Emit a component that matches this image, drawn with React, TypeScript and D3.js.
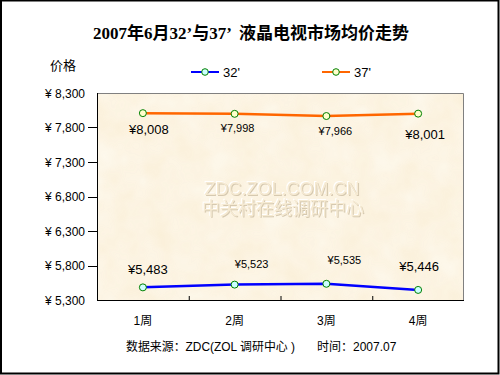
import React from "react";
import * as d3 from "d3";

const categories = ["1周", "2周", "3周", "4周"];
const series32 = [5483, 5523, 5535, 5446];
const series37 = [8008, 7998, 7966, 8001];
const yTicks = [5300, 5800, 6300, 6800, 7300, 7800, 8300];
const seriesNames = ["32'", "37'"];

// label placement (relative to point) and size per label
const label37 = [
  { dx: 6, dy: 21, size: 13 },
  { dx: 3, dy: 18, size: 11 },
  { dx: 9, dy: 19, size: 11 },
  { dx: 7, dy: 25, size: 13 },
];
const label32 = [
  { dx: 5, dy: -13, size: 13 },
  { dx: 17, dy: -17, size: 11 },
  { dx: 18, dy: -20, size: 11 },
  { dx: 1, dy: -19, size: 13 },
];

const W = 500;
const H = 375;
const plot = { left: 97, top: 93, right: 464, bottom: 300 };

export default function App() {
  const x = d3
    .scaleBand<string>()
    .domain(categories)
    .range([plot.left, plot.right]);
  const y = d3.scaleLinear().domain([5300, 8300]).range([plot.bottom, plot.top]);
  const cx = (c: string) => (x(c) as number) + x.bandwidth() / 2;
  const line = d3
    .line<number>()
    .x((_, i) => cx(categories[i]))
    .y((d) => y(d));
  const fmtAxis = (v: number) => "¥ " + d3.format(",")(v);
  const fmtLabel = (v: number) => "¥" + d3.format(",")(v);
  const sans = "'Liberation Sans', Arial, 'Noto Sans CJK SC', sans-serif";
  const cjk = "'Liberation Sans', 'Noto Sans CJK SC', sans-serif";

  const seriesDefs = [
    { data: series32, color: "#0000FF", fill: "#CCFFFF", labels: label32 },
    { data: series37, color: "#FF6600", fill: "#FFFFCC", labels: label37 },
  ];

  const boundaries = categories.slice(1).map((c) => x(c) as number);

  return (
    <svg
      width={W}
      height={H}
      style={{ position: "absolute", left: 0, top: 0 }}
      xmlns="http://www.w3.org/2000/svg"
    >
      <defs>
        <filter id="parch" x="0" y="0" width="100%" height="100%">
          <feTurbulence type="fractalNoise" baseFrequency="0.035" numOctaves="3" seed="3" result="n" />
          <feColorMatrix
            in="n"
            type="matrix"
            values="0 0 0 0 0.99  0 0 0 0 0.95  0 0 0 0 0.86  0 0 0 -1.1 1.05"
            result="c"
          />
          <feComposite in="c" in2="SourceGraphic" operator="in" />
        </filter>
        <filter id="emboss" x="-5%" y="-20%" width="110%" height="140%">
          <feOffset in="SourceAlpha" dx="-1" dy="-1" result="o1" />
          <feFlood floodColor="#FFFFFF" result="w" />
          <feComposite in="w" in2="o1" operator="in" result="hi" />
          <feOffset in="SourceAlpha" dx="0.8" dy="0.8" result="o2" />
          <feFlood floodColor="#D6C9B0" result="g" />
          <feComposite in="g" in2="o2" operator="in" result="sh" />
          <feMerge>
            <feMergeNode in="hi" />
            <feMergeNode in="sh" />
            <feMergeNode in="SourceGraphic" />
          </feMerge>
        </filter>
      </defs>
      <rect x={0} y={0} width={W} height={H} fill="#FFFFFF" />
      <rect x={1} y={0.5} width={W - 2.5} height={H - 2} fill="none" stroke="#000" strokeWidth={2} />

      <text
        x={251}
        y={39}
        textAnchor="middle"
        fontFamily="'Liberation Serif', 'Noto Sans CJK SC', serif"
        fontWeight="bold"
        fontSize={17}
        fill="#000"
        style={{ whiteSpace: "pre" }}
      >
        {"2007年6月32’与37’  液晶电视市场均价走势"}
      </text>
      <text x={50} y={70} fontFamily={cjk} fontSize={13} fill="#000">
        价格
      </text>

      {/* legend */}
      {seriesDefs.map((s, i) => {
        const lx = i === 0 ? 191 : 322;
        return (
          <g key={"lg" + i}>
            <line x1={lx} x2={lx + 28} y1={72} y2={72} stroke={s.color} strokeWidth={2} />
            <circle cx={lx + 14} cy={72} r={3.3} fill={s.fill} stroke="#008000" strokeWidth={1} />
            <text x={lx + 32} y={76.5} fontFamily={sans} fontSize={13} fill="#000">
              {seriesNames[i]}
            </text>
          </g>
        );
      })}

      {/* plot area */}
      <rect
        x={plot.left}
        y={plot.top}
        width={plot.right - plot.left}
        height={plot.bottom - plot.top}
        fill="#FAEFD8"
      />
      <rect
        x={plot.left}
        y={plot.top}
        width={plot.right - plot.left}
        height={plot.bottom - plot.top}
        fill="#FFF7E8"
        filter="url(#parch)"
        opacity={0.9}
      />
      <path
        d={`M${plot.left},${plot.top + 0.5}H${plot.right - 0.5}V${plot.bottom}`}
        fill="none"
        stroke="#808080"
        strokeWidth={1}
      />

      {/* watermark */}
      <g fontFamily={cjk} fontSize={18} textAnchor="middle" fill="#F6EAD2" filter="url(#emboss)">
        <text x={282} y={195}>ZDC.ZOL.COM.CN</text>
        <text x={283} y={215}>中关村在线调研中心</text>
      </g>

      {/* y axis */}
      <line x1={plot.left + 0.5} x2={plot.left + 0.5} y1={plot.top} y2={plot.bottom} stroke="#000" />
      {yTicks.map((t) => (
        <g key={"yt" + t}>
          {t !== 5300 && t !== 8300 && (
            <line x1={plot.left - 9} x2={plot.left} y1={Math.round(y(t)) + 0.5} y2={Math.round(y(t)) + 0.5} stroke="#000" />
          )}
          <text
            x={85}
            y={y(t) + 4.5}
            textAnchor="end"
            fontFamily={sans}
            fontSize={12}
            fill="#000"
          >
            {fmtAxis(t)}
          </text>
        </g>
      ))}

      {/* x axis */}
      <line x1={plot.left} x2={plot.right} y1={plot.bottom + 0.5} y2={plot.bottom + 0.5} stroke="#000" />
      {boundaries.map((b, i) => (
        <line key={"xt" + i} x1={b + 0.5} x2={b + 0.5} y1={plot.bottom - 4} y2={plot.bottom} stroke="#000" />
      ))}
      {categories.map((c) => (
        <text
          key={"xl" + c}
          x={cx(c)}
          y={325}
          textAnchor="middle"
          fontFamily={cjk}
          fontSize={12}
          fill="#000"
        >
          {c}
        </text>
      ))}

      {/* series */}
      {seriesDefs.map((s, si) => (
        <g key={"s" + si}>
          <path d={line(s.data) || ""} fill="none" stroke={s.color} strokeWidth={2.5} />
          {s.data.map((v, i) => (
            <circle
              key={"p" + i}
              cx={cx(categories[i])}
              cy={y(v)}
              r={3.5}
              fill={s.fill}
              stroke="#008000"
              strokeWidth={1}
            />
          ))}
          {s.data.map((v, i) => (
            <text
              key={"l" + i}
              x={cx(categories[i]) + s.labels[i].dx}
              y={y(v) + s.labels[i].dy}
              textAnchor="middle"
              fontFamily={sans}
              fontSize={s.labels[i].size}
              fill="#000"
            >
              {fmtLabel(v)}
            </text>
          ))}
        </g>
      ))}

      <text x={126} y={351} fontFamily={cjk} fontSize={12} fill="#000" textLength={169} lengthAdjust="spacingAndGlyphs">
        数据来源：ZDC(ZOL 调研中心 )
      </text>
      <text x={317} y={351} fontFamily={cjk} fontSize={12} fill="#000">
        时间：2007.07
      </text>
    </svg>
  );
}
